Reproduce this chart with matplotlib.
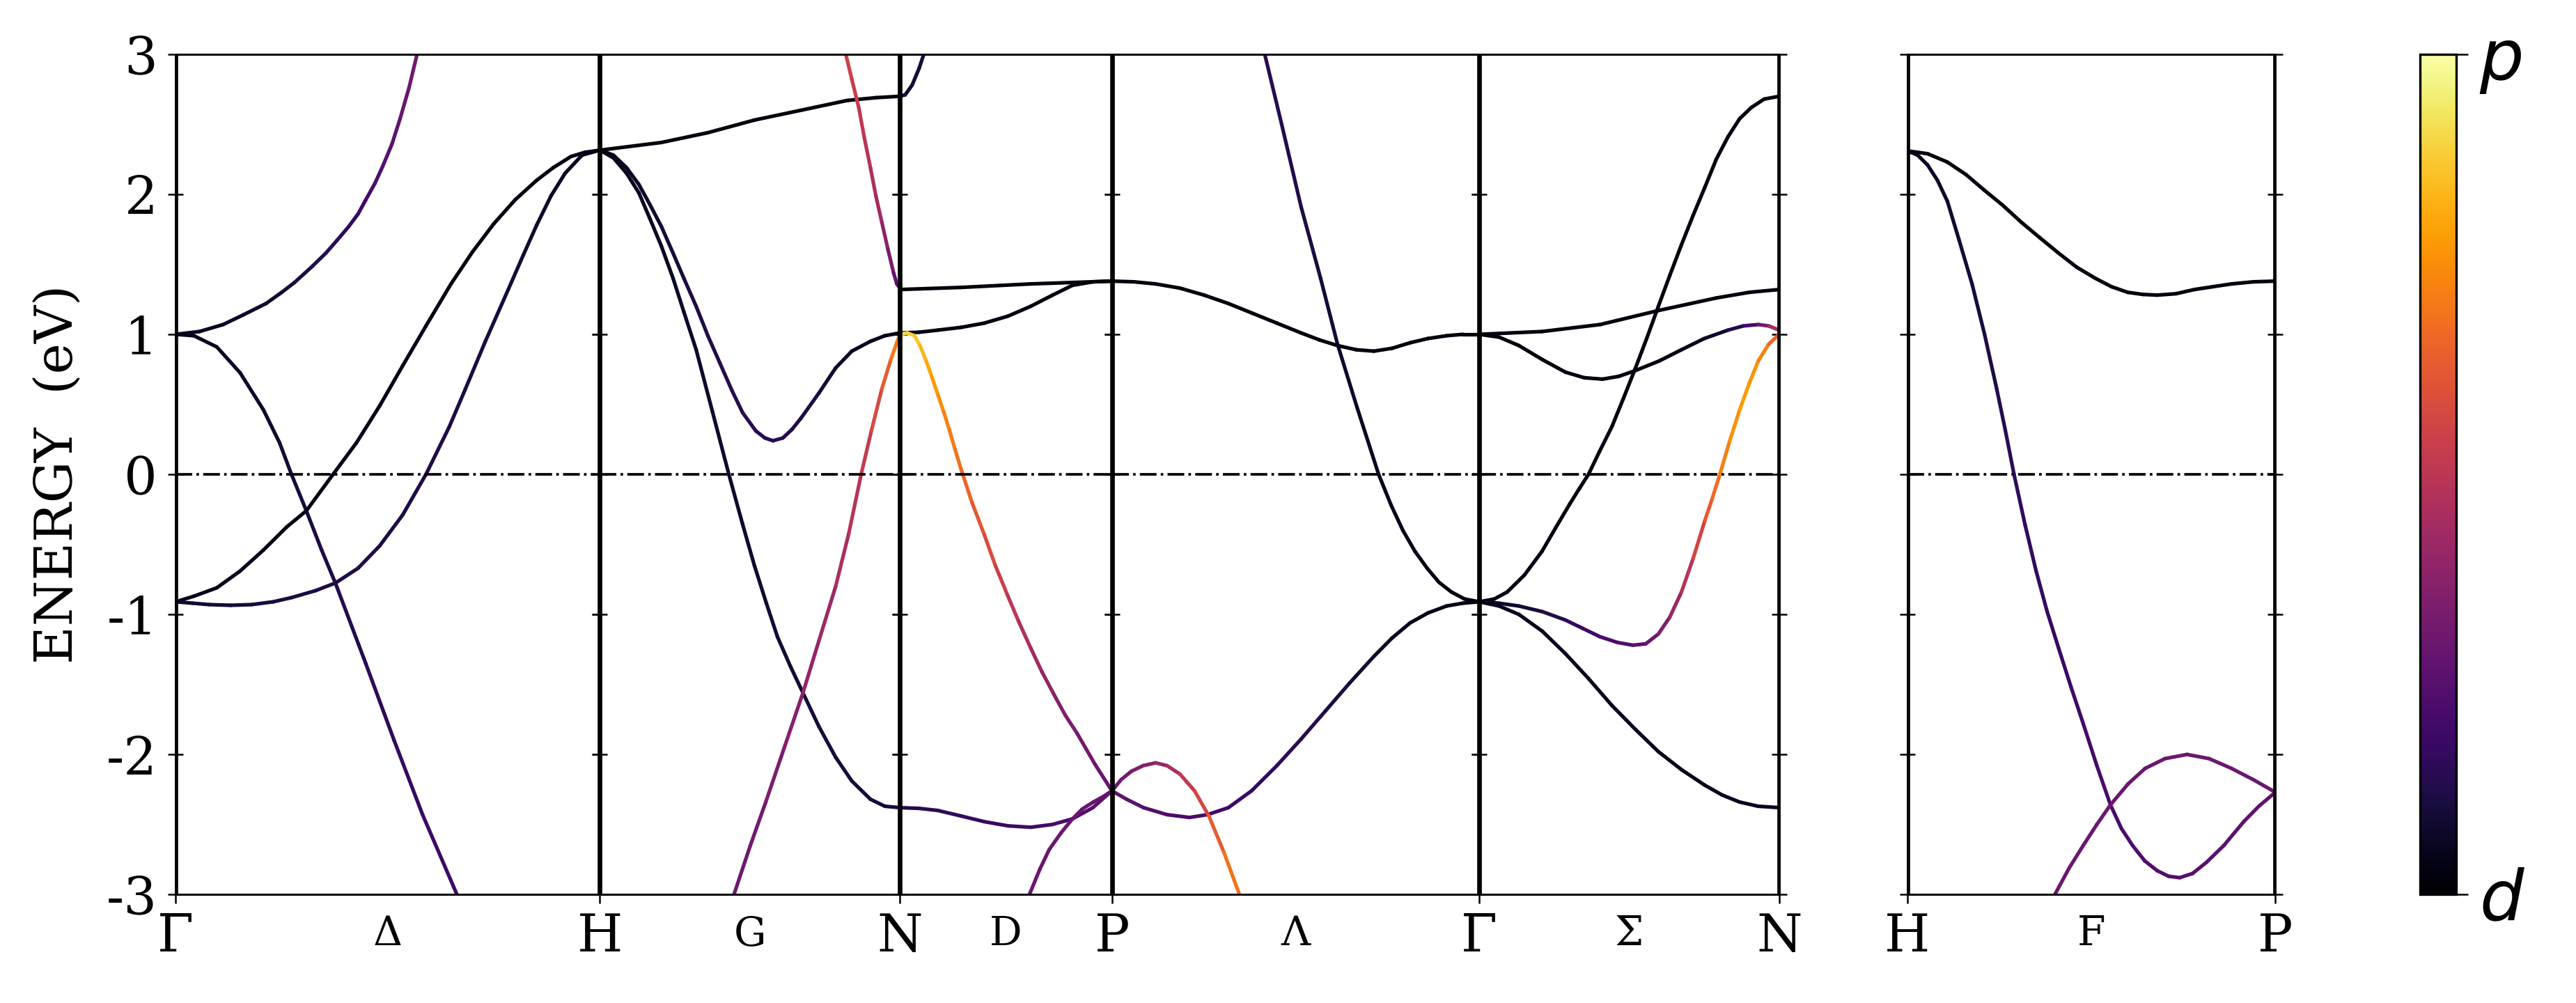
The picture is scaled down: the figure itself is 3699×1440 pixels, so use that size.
import matplotlib
matplotlib.use('Agg')
import matplotlib.pyplot as plt
import numpy as np
from matplotlib.collections import LineCollection
from matplotlib import cm, colors as mcolors
from pylab import rcParams

### Plot settings
params = {'font.family': 'DejaVu Serif',
          'font.size': 18,
          'axes.unicode_minus': False,
          'mathtext.fontset': 'dejavusans'}
rcParams.update(params)

# bcc path, segment lengths in units of 2pi/a
path_labels = ['Γ', 'H', 'N', 'P', 'Γ', 'N']
mid_labels = ['Δ', 'G', 'D', 'Λ', 'Σ']
seg_len = [1.0, 0.7071, 0.5, 0.8660, 0.7071]
side_labels = ['H', 'P']
side_mid = 'F'
side_len = 0.8660

# bands: (k as fraction of segment, energy in eV, p-character 0=d 1=p)
bands_GH = [
    ([0, .056, .112, .16, .213, .25, .280, .32, .354, .38, .408, .43, .448, .47, .488, .51, .529, .55, .569],
     [1.0, 1.02, 1.07, 1.14, 1.22, 1.30, 1.37, 1.48, 1.58, 1.67, 1.77, 1.86, 1.96, 2.08, 2.2, 2.36, 2.54, 2.76, 3.0],
     [.05, .05, .06, .07, .08, .09, .10, .12, .13, .15, .16, .18, .20, .22, .24, .26, .28, .30, .32]),
    ([0, .043, .097, .152, .207, .245, .273, .308, .344, .377, .448, .515, .582, .663],
     [1.0, 0.99, 0.91, 0.725, 0.46, 0.225, 0.0, -0.26, -0.54, -0.78, -1.35, -1.90, -2.43, -3.0],
     [.05, .05, .06, .07, .08, .09, .10, .11, .11, .12, .14, .16, .18, .20]),
    ([0, .043, .097, .152, .207, .262, .308, .371, .426, .481, .535, .59, .649, .70, .750, .80, .851, .89, .932, .965, 1.0],
     [-0.91, -0.87, -0.81, -0.69, -0.54, -0.375, -0.26, 0.0, 0.225, 0.49, 0.775, 1.06, 1.36, 1.59, 1.79, 1.96, 2.10, 2.19, 2.27, 2.30, 2.315],
     [.05, .05, .05, .05, .05, .04, .04, .04, .04, .04, .04, .04, .03, .03, .03, .03, .03, .03, .03, .03, .03]),
    ([0, .04, .079, .13, .179, .23, .273, .33, .377, .43, .481, .535, .59, .645, .683, .73, .784, .82, .851, .885, .918, .958, 1.0],
     [-0.91, -0.92, -0.93, -0.935, -0.93, -0.91, -0.88, -0.83, -0.775, -0.67, -0.51, -0.29, 0.0, 0.34, 0.61, 0.95, 1.32, 1.57, 1.78, 1.99, 2.15, 2.28, 2.315],
     [.08, .08, .09, .10, .10, .11, .11, .12, .12, .12, .12, .12, .12, .12, .11, .11, .10, .09, .08, .07, .06, .05, .04]),
]

bands_HN = [
    ([0, .205, .360, .515, .670, .824, .92, 1.0],
     [2.315, 2.37, 2.44, 2.53, 2.60, 2.67, 2.69, 2.70],
     [.02, .02, .02, .02, .02, .02, .02, .02]),
    ([0, .045, .089, .13, .166, .205, .244, .28, .321, .36, .399, .44, .476, .52, .55, .577, .61, .640, .670, .73, .786, .84, .902, .95, 1.0],
     [2.315, 2.28, 2.19, 2.07, 1.93, 1.77, 1.58, 1.40, 1.20, 0.99, 0.80, 0.60, 0.44, 0.31, 0.26, 0.24, 0.26, 0.32, 0.40, 0.58, 0.76, 0.88, 0.95, 0.99, 1.01],
     [.04, .05, .06, .07, .08, .09, .10, .11, .12, .12, .13, .13, .14, .14, .14, .14, .14, .13, .12, .10, .08, .06, .05, .04, .04]),
    ([0, .045, .089, .13, .166, .205, .244, .28, .321, .375, .430, .475, .515, .555, .592, .635, .677, .73, .786, .84, .902, .95, 1.0],
     [2.315, 2.26, 2.15, 2.01, 1.83, 1.63, 1.40, 1.16, 0.89, 0.45, 0.0, -0.35, -0.65, -0.92, -1.16, -1.37, -1.56, -1.80, -2.02, -2.19, -2.32, -2.37, -2.38],
     [.04, .04, .05, .05, .06, .06, .07, .07, .08, .08, .08, .08, .08, .09, .09, .09, .09, .10, .10, .10, .10, .10, .10]),
    ([.447, .50, .553, .615, .677, .73, .786, .83, .871, .905, .940, .97, 1.0],
     [-3.0, -2.66, -2.34, -1.95, -1.56, -1.19, -0.80, -0.42, 0.0, 0.31, 0.61, 0.82, 1.0],
     [.30, .31, .33, .35, .38, .41, .44, .47, .50, .55, .60, .67, .74]),
    ([.820, .84, .863, .882, .902, .92, .940, .96, .979, .99, 1.0],
     [3.0, 2.82, 2.62, 2.40, 2.19, 1.99, 1.80, 1.61, 1.44, 1.36, 1.33],
     [.55, .54, .52, .50, .48, .45, .42, .36, .30, .25, .22]),
]

bands_NP = [
    ([0, .025, .058, .091, .113],
     [2.70, 2.71, 2.78, 2.90, 3.0],
     [.08, .08, .09, .10, .10]),
    ([0, .288, .617, 1.0],
     [1.32, 1.335, 1.36, 1.38],
     [.02, .02, .02, .02]),
    ([0, .09, .179, .29, .398, .51, .617, .72, .814, .91, 1.0],
     [1.01, 1.015, 1.03, 1.05, 1.08, 1.13, 1.20, 1.28, 1.35, 1.375, 1.38],
     [.03, .03, .03, .03, .03, .03, .03, .02, .02, .02, .02]),
    ([0, .035, .069, .095, .124, .15, .179, .206, .233, .26, .288, .34, .398, .45, .507, .56, .617, .67, .726, .78, .836, .92, 1.0],
     [1.0, 1.01, 0.99, 0.92, 0.81, 0.70, 0.57, 0.45, 0.32, 0.18, 0.04, -0.20, -0.43, -0.65, -0.86, -1.05, -1.24, -1.41, -1.57, -1.72, -1.85, -2.07, -2.26],
     [.92, .90, .88, .85, .82, .79, .76, .74, .72, .70, .68, .64, .60, .56, .52, .48, .45, .41, .38, .35, .33, .30, .28]),
    ([0, .09, .179, .29, .398, .51, .617, .72, .814, .91, 1.0],
     [-2.38, -2.385, -2.40, -2.44, -2.48, -2.51, -2.52, -2.50, -2.46, -2.38, -2.26],
     [.12, .13, .15, .16, .18, .19, .20, .21, .22, .25, .28]),
    ([.611, .66, .704, .76, .814, .86, .912, .96, 1.0],
     [-3.0, -2.82, -2.68, -2.56, -2.46, -2.39, -2.34, -2.30, -2.26],
     [.30, .30, .30, .30, .30, .29, .29, .28, .28]),
]

bands_PG = [
    ([.416, .462, .515, .568, .614, .667, .726, .76, .792, .825, .858, .89, .924, .96, 1.0],
     [3.0, 2.50, 1.91, 1.40, 0.93, 0.48, 0.0, -0.22, -0.40, -0.55, -0.67, -0.77, -0.84, -0.89, -0.91],
     [.15, .13, .12, .10, .09, .07, .05, .05, .04, .04, .03, .03, .03, .03, .03]),
    ([0, .06, .119, .185, .251, .317, .383, .449, .515, .565, .614, .665, .713, .762, .812, .86, .911, .955, 1.0],
     [1.38, 1.375, 1.36, 1.33, 1.28, 1.22, 1.15, 1.08, 1.01, 0.96, 0.92, 0.89, 0.88, 0.90, 0.94, 0.97, 0.99, 1.0, 1.0],
     [.02, .02, .02, .02, .02, .02, .02, .02, .02, .02, .02, .02, .02, .02, .02, .02, .02, .02, .02]),
    ([0, .04, .086, .15, .211, .26, .317, .38, .449, .515, .581, .647, .713, .762, .812, .86, .911, .955, 1.0],
     [-2.26, -2.32, -2.38, -2.43, -2.45, -2.43, -2.38, -2.26, -2.08, -1.89, -1.69, -1.49, -1.30, -1.17, -1.06, -0.99, -0.94, -0.92, -0.91],
     [.28, .27, .25, .23, .22, .21, .20, .18, .16, .14, .12, .10, .08, .06, .05, .04, .04, .03, .03]),
    ([0, .025, .053, .085, .119, .15, .185, .225, .264, .305, .347],
     [-2.26, -2.18, -2.12, -2.08, -2.06, -2.08, -2.14, -2.26, -2.44, -2.70, -3.0],
     [.30, .31, .33, .35, .38, .43, .48, .54, .60, .66, .72]),
]

bands_GN = [
    ([0, .05, .093, .15, .209, .255, .302, .334, .364, .40, .442, .48, .519, .558, .597, .635, .674, .713, .752, .79, .829, .868, .907, .95, 1.0],
     [-0.91, -0.89, -0.84, -0.72, -0.55, -0.38, -0.21, -0.10, 0.0, 0.16, 0.34, 0.54, 0.75, 0.97, 1.20, 1.42, 1.64, 1.85, 2.05, 2.25, 2.41, 2.54, 2.62, 2.68, 2.70],
     [.03] * 25),
    ([0, .209, .403, .597, .791, .9, 1.0],
     [1.0, 1.02, 1.07, 1.17, 1.26, 1.30, 1.32],
     [.02, .02, .02, .02, .02, .02, .02]),
    ([0, .066, .132, .21, .287, .35, .411, .465, .519, .60, .674, .75, .829, .88, .930, .965, 1.0],
     [1.0, 0.98, 0.92, 0.82, 0.73, 0.69, 0.68, 0.70, 0.74, 0.81, 0.89, 0.97, 1.03, 1.06, 1.07, 1.06, 1.03],
     [.02, .02, .02, .02, .03, .03, .03, .03, .03, .03, .04, .06, .10, .17, .25, .38, .50]),
    ([0, .066, .132, .21, .287, .345, .403, .46, .512, .555, .597, .635, .674, .713, .752, .777, .802, .835, .868, .90, .930, .965, 1.0],
     [-0.91, -0.92, -0.94, -0.98, -1.04, -1.10, -1.16, -1.20, -1.22, -1.21, -1.14, -1.02, -0.84, -0.60, -0.33, -0.17, 0.0, 0.24, 0.46, 0.65, 0.81, 0.93, 1.0],
     [.05, .06, .08, .11, .15, .18, .20, .23, .25, .28, .32, .38, .45, .52, .60, .65, .70, .74, .78, .78, .75, .70, .62]),
    ([0, .066, .132, .21, .287, .365, .442, .52, .597, .675, .752, .81, .868, .93, 1.0],
     [-0.91, -0.94, -1.0, -1.12, -1.28, -1.46, -1.65, -1.82, -1.98, -2.11, -2.22, -2.29, -2.34, -2.37, -2.38],
     [.05] * 15),
]

bands_HP = [
    ([0, .055, .109, .16, .209, .26, .310, .36, .411, .46, .511, .555, .599, .64, .679, .73, .780, .83, .881, .94, 1.0],
     [2.31, 2.29, 2.23, 2.14, 2.03, 1.92, 1.80, 1.69, 1.58, 1.48, 1.40, 1.34, 1.30, 1.285, 1.28, 1.29, 1.32, 1.34, 1.36, 1.375, 1.38],
     [.02] * 21),
    ([0, .028, .055, .082, .109, .14, .176, .21, .243, .266, .290, .32, .350, .38, .411, .445, .478, .515, .552, .582, .612, .645, .679, .71, .740, .775, .813, .86, .914, .955, 1.0],
     [2.31, 2.28, 2.21, 2.10, 1.95, 1.68, 1.36, 1.00, 0.61, 0.32, 0.0, -0.36, -0.69, -0.98, -1.24, -1.52, -1.78, -2.08, -2.36, -2.53, -2.65, -2.76, -2.83, -2.87, -2.88, -2.85, -2.77, -2.65, -2.48, -2.37, -2.27],
     [.05, .05, .06, .07, .08, .09, .10, .11, .13, .14, .15, .16, .17, .17, .18, .19, .20, .21, .22, .22, .23, .23, .24, .24, .25, .25, .26, .26, .27, .27, .28]),
    ([.401, .44, .478, .515, .552, .60, .646, .70, .760, .82, .881, .94, 1.0],
     [-3.0, -2.81, -2.65, -2.50, -2.36, -2.21, -2.10, -2.03, -2.0, -2.03, -2.10, -2.18, -2.27],
     [.30] * 13),
]

main_bands = [bands_GH, bands_HN, bands_NP, bands_PG, bands_GN]

cmap = 'inferno'
norm = mcolors.Normalize(vmin=0, vmax=1)


def draw_band(ax, k, e, w):
    k = np.asarray(k); e = np.asarray(e); w = np.asarray(w)
    pts = np.column_stack([k, e]).reshape(-1, 1, 2)
    segs = np.concatenate([pts[:-1], pts[1:]], axis=1)
    lc = LineCollection(segs, cmap=cmap, norm=norm, linewidths=1.25,
                        capstyle='round', joinstyle='round')
    lc.set_array(0.5 * (w[:-1] + w[1:]))
    ax.add_collection(lc)


def style_panel(ax, show_ylabels):
    ax.set_xlim(0, 1)
    ax.set_ylim(-3, 3)
    ax.set_yticks(range(-3, 4))
    ax.tick_params(axis='y', direction='inout', length=5.5, width=0.6,
                   left=True, right=True, labelleft=show_ylabels, labelsize=18)
    ax.tick_params(axis='x', direction='out', length=3, width=0.6, labelsize=18, pad=3)
    for s in ax.spines.values():
        s.set_linewidth(0.7)
    # high-symmetry lines, half of each one falls inside the panel
    for xv in (0, 1):
        ax.axvline(xv, color='k', lw=1.6)
    ax.axhline(0, color='k', ls='-.', lw=0.9)


def mid_label(ax, text):
    ax.annotate(text, xy=(0.5, 0), xycoords='axes fraction', xytext=(0, -7),
                textcoords='offset points', ha='center', va='top', fontsize=14)


fig = plt.figure(figsize=(3699 / 300, 1440 / 300), dpi=300)
gs = fig.add_gridspec(1, 5, width_ratios=seg_len, left=0.0682, right=0.6907,
                      bottom=0.1082, top=0.9459, wspace=0)

for i in range(5):
    ax = fig.add_subplot(gs[0, i])
    for k, e, w in main_bands[i]:
        draw_band(ax, k, e, w)
    style_panel(ax, i == 0)
    if i < 4:
        ax.set_xticks([0])
        ax.set_xticklabels([path_labels[i]])
    else:
        ax.set_xticks([0, 1])
        ax.set_xticklabels([path_labels[4], path_labels[5]])
    mid_label(ax, mid_labels[i])
    if i == 0:
        ax.set_ylabel('ENERGY  (eV)', fontsize=18, labelpad=8)

ax2 = fig.add_axes([0.7404, 0.1082, 0.8833 - 0.7404, 0.9459 - 0.1082])
for k, e, w in bands_HP:
    draw_band(ax2, k, e, w)
style_panel(ax2, False)
ax2.set_xticks([0, 1])
ax2.set_xticklabels(side_labels)
mid_label(ax2, side_mid)

cax = fig.add_axes([0.9394, 0.1082, 0.014, 0.9459 - 0.1082])
cb = fig.colorbar(cm.ScalarMappable(norm=norm, cmap=cmap), cax=cax, ticks=[0, 1])
cb.ax.set_yticklabels(['$d$', '$p$'], fontsize=24)
cb.outline.set_linewidth(0.8)
cb.ax.tick_params(length=4, width=0.6, pad=4)

plt.savefig('out.png', dpi=300)
